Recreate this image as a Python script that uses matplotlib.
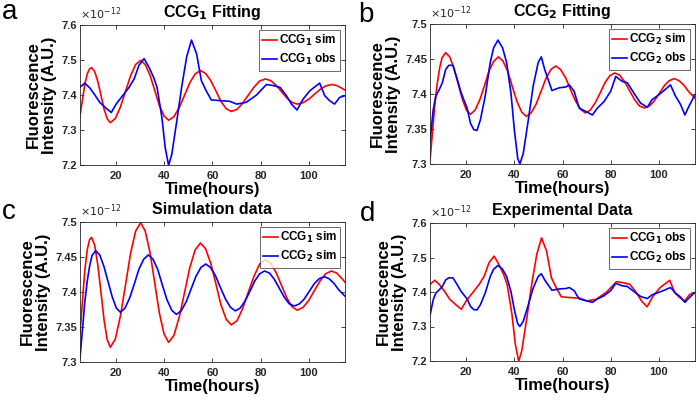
import matplotlib
matplotlib.use("Agg")
import matplotlib.pyplot as plt
from matplotlib.ticker import FuncFormatter

plt.rcParams['font.family'] = ['Liberation Sans', 'DejaVu Sans']

# values in units of 1e-12 (A.U.)
t_sim1 = [5, 6, 7, 8, 9, 9.8, 11.1, 12.4, 13.7, 15.0, 16.3, 17.6, 19.7, 21.8, 23.9, 26.0, 28.1, 30.2,
          32.1, 34.1, 36.0, 37.9, 39.9, 41.8, 44.0, 46.2, 48.4, 50.6, 52.8, 55, 57.1, 59.3, 61.4, 63.5,
          65.7, 67.8, 70.2, 72.5, 74.9, 77.3, 79.6, 82, 84.2, 86.4, 88.6, 90.8, 93.0, 95.2, 97.6, 100,
          102.3, 104.7, 107, 109.4, 111.6, 113.8, 115]
ccg1_sim = [7.34, 7.385, 7.43, 7.46, 7.475, 7.478, 7.467, 7.439, 7.40, 7.36, 7.332, 7.321, 7.333, 7.366,
            7.41, 7.455, 7.487, 7.499, 7.487, 7.456, 7.414, 7.371, 7.34, 7.328, 7.338, 7.364, 7.399,
            7.435, 7.46, 7.47, 7.462, 7.441, 7.412, 7.382, 7.361, 7.353, 7.359, 7.376, 7.40, 7.423,
            7.44, 7.446, 7.441, 7.428, 7.41, 7.392, 7.379, 7.374, 7.378, 7.388, 7.402, 7.416, 7.426,
            7.43, 7.427, 7.419, 7.414]

t_sim2 = [5, 6, 7, 8, 9, 10, 11.5, 13.2, 14.9, 16.65, 18.4, 20.1, 21.8, 23.7, 25.7, 27.6, 29.5, 31.5,
          33.4, 35.3, 37.3, 39.2, 41.1, 43.1, 45, 47, 49.1, 51.1, 53.1, 55.2, 57.2, 59.2, 61.3, 63.35,
          65.4, 67.5, 69.5, 71.5, 73.5, 75.55, 77.6, 79.6, 81.6, 83.7, 85.7, 87.8, 89.9, 91.9, 94,
          96.1, 98.1, 100.2, 102.3, 104.3, 106.4, 108.4, 110.4, 112.45, 115]
ccg2_sim = [7.305, 7.345, 7.385, 7.415, 7.437, 7.452, 7.459, 7.453, 7.437, 7.415, 7.393, 7.377, 7.371,
            7.377, 7.392, 7.412, 7.433, 7.447, 7.453, 7.447, 7.432, 7.41, 7.389, 7.374, 7.368, 7.373,
            7.386, 7.404, 7.422, 7.435, 7.44, 7.435, 7.423, 7.406, 7.39, 7.378, 7.373, 7.377, 7.387,
            7.401, 7.416, 7.426, 7.43, 7.427, 7.418, 7.405, 7.392, 7.383, 7.38, 7.383, 7.39, 7.401,
            7.412, 7.419, 7.422, 7.419, 7.4125, 7.403, 7.394]

t_obs1 = [5, 7, 9.1, 11.2, 13.2, 15.9, 18, 20, 22.7, 25.4, 27.5, 29.5, 31.6, 33.6, 35.6, 37, 39, 40.4,
          41.8, 43.1, 45.2, 47.2, 49.3, 51.3, 53.4, 55.4, 57.4, 59.5, 63, 67.2, 70, 74, 78.3, 82.4,
          85.2, 88, 90.7, 92.8, 95.1, 97.6, 100.4, 103.2, 104.5, 106.6, 108.6, 110.7, 112.8, 115]
ccg1_obs = [7.422, 7.434, 7.42, 7.40, 7.379, 7.362, 7.35, 7.374, 7.398, 7.422, 7.446, 7.485, 7.504,
            7.48, 7.45, 7.422, 7.336, 7.249, 7.199, 7.23, 7.326, 7.422, 7.509, 7.557, 7.518, 7.441,
            7.412, 7.386, 7.384, 7.382, 7.374, 7.379, 7.40, 7.43, 7.427, 7.422, 7.398, 7.374, 7.357,
            7.388, 7.412, 7.427, 7.434, 7.398, 7.384, 7.374, 7.393, 7.398]

t_obs2 = [5, 6.3, 7.4, 8.8, 10.1, 11.5, 12.8, 14.5, 16.3, 17.7, 19, 20.4, 21.8, 23.2, 24.5, 25.9,
          27.9, 30, 31.4, 33.2, 35.1, 36.8, 38.6, 40, 41.4, 42.3, 43.7, 45.8, 47.8, 49.9, 51.2, 52.6,
          54, 55.6, 58.8, 61.4, 62.8, 64.8, 66.9, 69.7, 72.4, 74.5, 77.2, 80, 82.1, 84.8, 86.9, 89.7,
          92.4, 95.2, 97.2, 100, 102.5, 104.8, 106.9, 109, 110.8, 112.4, 115]
ccg2_obs = [7.332, 7.377, 7.397, 7.406, 7.416, 7.435, 7.441, 7.441, 7.421, 7.404, 7.392, 7.38, 7.358,
            7.349, 7.348, 7.363, 7.397, 7.445, 7.466, 7.477, 7.466, 7.445, 7.401, 7.349, 7.308, 7.30,
            7.315, 7.363, 7.411, 7.445, 7.453, 7.435, 7.421, 7.405, 7.409, 7.41, 7.413, 7.404, 7.38,
            7.375, 7.37, 7.38, 7.389, 7.404, 7.425, 7.418, 7.416, 7.401, 7.387, 7.381, 7.392, 7.399,
            7.406, 7.413, 7.397, 7.385, 7.37, 7.382, 7.399]

RED = '#ff0000'
BLUE = '#0000ff'
GRAY = '#262626'

fig = plt.figure(figsize=(6.99, 4.0), dpi=100)


def setup(ax, letter, title, ylim, yticks, lx, ly):
    ax.set_xlim(5, 115)
    ax.set_ylim(*ylim)
    ax.set_xticks([20, 40, 60, 80, 100])
    ax.set_yticks(yticks)
    ax.yaxis.set_major_formatter(FuncFormatter(lambda v, p: '%g' % round(v, 3)))
    ax.tick_params(direction='in', top=True, right=True, length=3, width=0.6,
                   labelsize=8, colors=GRAY)
    ax.tick_params(axis='x', pad=4)
    ax.tick_params(axis='y', pad=2)
    for lab in ax.get_xticklabels() + ax.get_yticklabels():
        lab.set_fontweight('bold')
    for s in ax.spines.values():
        s.set_color(GRAY)
        s.set_linewidth(0.6)
    ax.set_title(title, fontsize=11.5, fontweight='bold', pad=6)
    ax.set_xlabel('Time(hours)', fontsize=12, fontweight='bold', labelpad=1)
    ax.set_ylabel('Fluorescence\nIntensity (A.U.)', fontsize=12, fontweight='bold',
                  labelpad=3, linespacing=1.1)
    ax.text(0.0, 1.02, r'$\times10^{-12}$', transform=ax.transAxes, fontsize=8,
            color=GRAY, ha='left', va='bottom')
    fig.text(lx, ly, letter, fontsize=20, ha='left', va='baseline')
    leg = ax.legend(loc='upper right', fontsize=8.5, frameon=True, fancybox=False,
                    handlelength=1.25, handletextpad=0.15, borderpad=0.3,
                    labelspacing=0.3, borderaxespad=0.4)
    leg.get_frame().set_edgecolor(GRAY)
    leg.get_frame().set_linewidth(0.6)
    for txt in leg.get_texts():
        txt.set_fontweight('bold')


lw = 1.2

ax = fig.add_axes([0.1144, 0.5875, 0.3791, 0.35])
ax.plot(t_sim1, ccg1_sim, color=RED, lw=lw, label='CCG$_\\mathbf{1}$ sim')
ax.plot(t_obs1, ccg1_obs, color=BLUE, lw=lw, label='CCG$_\\mathbf{1}$ obs')
setup(ax, 'a', 'CCG$_\\mathbf{1}$ Fitting', (7.2, 7.6), [7.2, 7.3, 7.4, 7.5, 7.6], 0.003, 0.953)

ax = fig.add_axes([0.6152, 0.59, 0.3791, 0.35])
ax.plot(t_sim2, ccg2_sim, color=RED, lw=lw, label='CCG$_\\mathbf{2}$ sim')
ax.plot(t_obs2, ccg2_obs, color=BLUE, lw=lw, label='CCG$_\\mathbf{2}$ obs')
setup(ax, 'b', 'CCG$_\\mathbf{2}$ Fitting', (7.3, 7.5), [7.3, 7.35, 7.4, 7.45, 7.5], 0.512, 0.945)

ax = fig.add_axes([0.1144, 0.095, 0.3791, 0.35])
ax.plot(t_sim1, ccg1_sim, color=RED, lw=lw, label='CCG$_\\mathbf{1}$ sim')
ax.plot(t_sim2, ccg2_sim, color=BLUE, lw=lw, label='CCG$_\\mathbf{2}$ sim')
setup(ax, 'c', 'Simulation data', (7.3, 7.5), [7.3, 7.35, 7.4, 7.45, 7.5], 0.003, 0.452)

ax = fig.add_axes([0.6152, 0.0975, 0.3791, 0.345])
ax.plot(t_obs1, ccg1_obs, color=RED, lw=lw, label='CCG$_\\mathbf{1}$ obs')
ax.plot(t_obs2, ccg2_obs, color=BLUE, lw=lw, label='CCG$_\\mathbf{2}$ obs')
setup(ax, 'd', 'Experimental Data', (7.2, 7.6), [7.2, 7.3, 7.4, 7.5, 7.6], 0.515, 0.448)

fig.savefig('out.png', dpi=100)
